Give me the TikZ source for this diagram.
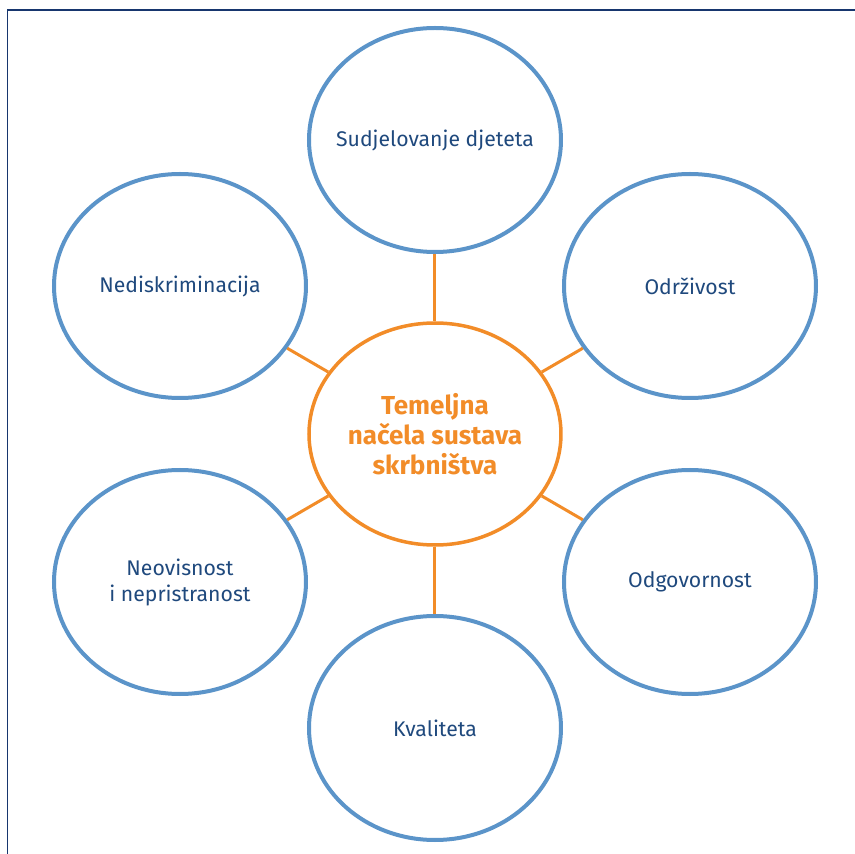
\documentclass[tikz,border=0pt]{standalone}
\usepackage{fontspec}
\setmainfont{Fira Sans}
\usepackage{tikz}
\usetikzlibrary{shapes}
\usetikzlibrary{shapes.geometric}
\definecolor{ringblue}{RGB}{91,148,201}
\definecolor{textblue}{RGB}{31,73,125}
\definecolor{coreorange}{RGB}{242,140,40}
\definecolor{framenavy}{RGB}{23,54,110}
\tikzstyle{principle}=[
   ellipse,
   line width=4pt,
   draw=ringblue,
   fill=white,
   text=textblue,
   align=center,
   inner sep=0pt,
   inner xsep=-20pt,
   minimum width=252pt,
   minimum height=224pt,
   font=\fontsize{21.2}{26}\selectfont
]
\tikzstyle{core}=[
   principle,
   draw=coreorange,
   line width=3.5pt,
   text=coreorange,
   minimum height=222pt,
   font=\fontsize{26}{30}\selectfont\bfseries
]
\tikzstyle{link}=[
   draw=coreorange,
   line width=3pt
]

\begin{document}
\begin{tikzpicture}[x=1pt,y=1pt,node distance=294pt,semithick]

  \useasboundingbox (-435,-420) rectangle (420,434);
  \draw[framenavy,line width=1.6pt] (-427.5,-420) -- (-427.5,424) -- (420,424);

  \node[core]      (core)                {Temeljna\\ načela sustava\\ skrbništva};
  \node[principle] (part) [above of=core] {Sudjelovanje djeteta};
  \node[principle] (qual) [below of=core] {Kvaliteta};
  \node[principle] (nond) [left of=core, xshift=39pt, yshift=148pt]   {Nediskriminacija};
  \node[principle] (sust) [right of=core, xshift=-39pt, yshift=148pt] {Održivost};
  \node[principle] (indp) [left of=core, xshift=39pt, yshift=-148pt]  {Neovisnost\\ i nepristranost};
  \node[principle] (resp) [right of=core, xshift=-39pt, yshift=-148pt] {Odgovornost};

  \path (core) edge[link] (part)
        (core) edge[link] (qual)
        (core) edge[link] (nond)
        (core) edge[link] (sust)
        (core) edge[link] (indp)
        (core) edge[link] (resp);

\end{tikzpicture}
\end{document}
